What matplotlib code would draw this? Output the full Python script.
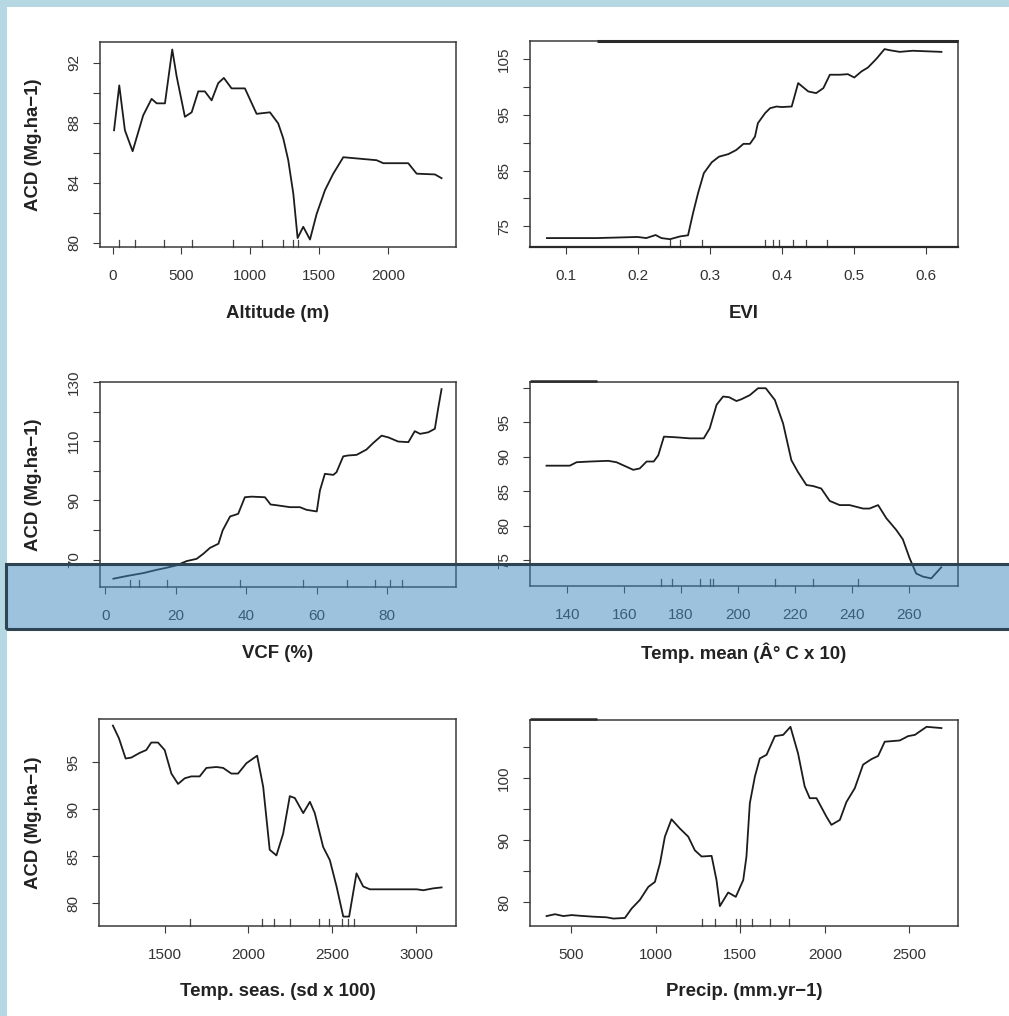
import matplotlib
matplotlib.use("Agg")
import matplotlib.pyplot as plt
from matplotlib.patches import Rectangle
from matplotlib.lines import Line2D
import numpy as np

plt.rcParams['font.family'] = ['Liberation Sans', 'DejaVu Sans']

W, H = 1009, 1016

# ---------------- data ----------------
alt_x = [10, 48, 89, 145, 222, 283, 320, 380, 433, 465, 525, 574, 622, 670, 719, 767, 808, 864,
         961, 1046, 1143, 1203, 1240, 1276, 1313, 1344, 1385, 1434, 1482, 1543, 1603, 1676, 1797,
         1918, 1967, 2148, 2209, 2342, 2390]
alt_y = [87.5, 90.5, 87.5, 86.1, 88.5, 89.6, 89.3, 89.3, 92.9, 91.1, 88.4, 88.7, 90.1, 90.1, 89.5,
         90.65, 91.0, 90.3, 90.3, 88.6, 88.7, 87.96, 86.95, 85.5, 83.25, 80.3, 81.05, 80.2, 81.9,
         83.5, 84.6, 85.7, 85.6, 85.5, 85.3, 85.3, 84.6, 84.55, 84.3]
alt_rug = [46, 162, 375, 580, 875, 1085, 1240, 1310, 1350]

evi_x = [0.074, 0.143, 0.200, 0.212, 0.225, 0.233, 0.245, 0.259, 0.270, 0.277, 0.284, 0.292,
         0.303, 0.313, 0.326, 0.337, 0.347, 0.356, 0.363, 0.367, 0.377, 0.384, 0.393, 0.400,
         0.414, 0.423, 0.437, 0.448, 0.458, 0.467, 0.481, 0.492, 0.501, 0.511, 0.520, 0.532,
         0.543, 0.550, 0.564, 0.582, 0.622]
evi_y = [72.9, 72.9, 73.1, 72.9, 73.45, 72.9, 72.7, 73.2, 73.4, 77.4, 81.0, 84.55, 86.5, 87.5,
         87.96, 88.7, 89.8, 89.8, 91.1, 93.5, 95.3, 96.2, 96.5, 96.4, 96.5, 100.7, 99.2, 98.9,
         99.8, 102.2, 102.2, 102.3, 101.7, 102.8, 103.5, 105.1, 106.8, 106.6, 106.3, 106.5, 106.3]
evi_rug = [0.245, 0.259, 0.290, 0.377, 0.388, 0.397, 0.416, 0.434, 0.463]

vcf_x = [2.3, 6.05, 10.8, 14.6, 17.4, 20.2, 23.1, 25.9, 27.8, 29.7, 32.1, 33.3, 35.4, 37.7, 39.6,
         41.5, 45.3, 46.9, 48.6, 52.4, 55.2, 57.1, 60.0, 60.9, 62.3, 64.7, 65.6, 67.5, 68.9, 71.3,
         74.1, 76.0, 78.4, 80.3, 83.1, 86.0, 87.8, 89.3, 91.6, 93.5, 94.5, 95.4]
vcf_y = [63.6, 64.5, 65.5, 66.6, 67.3, 68.1, 69.55, 70.3, 72.0, 74.0, 75.4, 79.9, 84.6, 85.5, 91.1,
         91.3, 91.1, 88.65, 88.4, 87.75, 87.75, 86.85, 86.3, 93.4, 99.0, 98.65, 99.55, 104.9,
         105.2, 105.4, 107.2, 109.4, 111.9, 111.3, 109.9, 109.7, 113.4, 112.5, 113.0, 114.2,
         121.5, 127.6]
vcf_rug = [7.0, 9.6, 17.6, 38.2, 56.2, 68.5, 76.5, 80.9, 84.1]

tmean_x = [132.7, 140.9, 143.3, 148.0, 154.4, 157.3, 160.8, 163.2, 165.5, 167.9, 170.4, 172.0,
           174.0, 178.4, 183.1, 188.0, 190.1, 192.5, 194.8, 196.9, 199.5, 201.2, 204.2, 207.1,
           209.8, 213.0, 215.9, 218.8, 221.1, 224.1, 226.4, 229.3, 232.3, 235.8, 239.3, 244.0,
           246.3, 249.3, 252.2, 255.7, 258.0, 260.4, 262.7, 265.1, 268.0, 271.5]
tmean_y = [88.7, 88.7, 89.2, 89.3, 89.4, 89.2, 88.55, 88.1, 88.3, 89.3, 89.3, 90.2, 92.9, 92.8,
           92.65, 92.65, 94.1, 97.5, 98.7, 98.6, 98.05, 98.3, 98.9, 99.9, 99.9, 98.2, 94.8, 89.5,
           87.8, 85.9, 85.76, 85.4, 83.6, 83.0, 83.0, 82.5, 82.5, 83.0, 81.1, 79.4, 78.05, 75.3,
           73.1, 72.65, 72.4, 74.0]
tmean_rug = [173.1, 177.0, 186.6, 190.1, 191.3, 213.0, 226.4, 242.2]

tseas_x = [1191, 1227, 1267, 1301, 1351, 1390, 1420, 1460, 1500, 1540, 1580, 1620, 1659, 1709,
           1749, 1809, 1849, 1898, 1938, 1988, 2052, 2088, 2127, 2167, 2207, 2247, 2277, 2327,
           2367, 2396, 2446, 2486, 2526, 2566, 2601, 2645, 2685, 2725, 2805, 3004, 3044, 3103, 3153]
tseas_y = [98.9, 97.55, 95.4, 95.5, 96.0, 96.3, 97.1, 97.1, 96.3, 93.8, 92.7, 93.3, 93.5, 93.5,
           94.4, 94.5, 94.4, 93.8, 93.8, 94.9, 95.7, 92.4, 85.7, 85.1, 87.4, 91.4, 91.2, 89.6,
           90.8, 89.6, 86.0, 84.6, 81.8, 78.6, 78.6, 83.2, 81.8, 81.5, 81.5, 81.5, 81.4, 81.6, 81.7]
tseas_rug = [1649, 2078, 2153, 2247, 2420, 2480, 2556, 2592, 2631]

prec_x = [356, 406, 455, 504, 553, 632, 711, 750, 819, 858, 907, 957, 996, 1026, 1055, 1094,
          1144, 1193, 1232, 1272, 1331, 1360, 1380, 1429, 1474, 1518, 1537, 1557, 1587, 1616,
          1656, 1705, 1754, 1797, 1842, 1881, 1911, 1951, 2010, 2039, 2089, 2128, 2177, 2226,
          2276, 2315, 2354, 2443, 2492, 2532, 2601, 2689]
prec_y = [77.8, 78.1, 77.8, 77.96, 77.85, 77.7, 77.6, 77.4, 77.5, 79.0, 80.4, 82.5, 83.3, 86.3,
          90.6, 93.4, 91.9, 90.6, 88.4, 87.4, 87.5, 83.6, 79.4, 81.6, 80.9, 83.6, 87.4, 96.0,
          100.3, 103.2, 103.8, 106.8, 107.0, 108.3, 104.0, 98.7, 96.8, 96.8, 93.8, 92.5, 93.3,
          96.2, 98.4, 102.2, 103.1, 103.6, 105.9, 106.1, 106.8, 107.0, 108.3, 108.1]
prec_rug = [1272, 1350, 1478, 1500, 1567, 1675, 1789]

xlabels = ["Altitude (m)", "EVI", "VCF (%)", "Temp. mean (Â° C x 10)",
           "Temp. seas. (sd x 100)", "Precip. (mm.yr\u22121)"]
ylabel = "ACD (Mg.ha\u22121)"

# ---------------- layout (pixels) ----------------
boxes = [(100, 456, 42, 247), (530, 958, 41, 247),
         (100, 456, 382, 587), (530, 958, 382, 586),
         (99, 456, 719, 926), (530, 958, 720, 926)]
xlims = [(-92, 2495), (0.0505, 0.645), (-1.5, 99.5), (126.9, 277.4), (1108, 3239), (258, 2787)]
ylims = [(79.7, 93.4), (71.3, 108.25), (60.8, 130.0), (71.3, 100.8), (77.6, 99.6), (76.2, 109.4)]
xticks = [[0, 500, 1000, 1500, 2000], [0.1, 0.2, 0.3, 0.4, 0.5, 0.6], [0, 20, 40, 60, 80],
          [140, 160, 180, 200, 220, 240, 260], [1500, 2000, 2500, 3000], [500, 1000, 1500, 2000, 2500]]
yticks = [[80, 82, 84, 86, 88, 90, 92], [75, 80, 85, 90, 95, 100, 105],
          [70, 80, 90, 100, 110, 120, 130], [75, 80, 85, 90, 95, 100],
          [80, 85, 90, 95], [80, 85, 90, 95, 100, 105]]
ylabshown = [[80, 84, 88, 92], [75, 85, 95, 105], [70, 90, 110, 130], [75, 80, 85, 90, 95],
             [80, 85, 90, 95], [80, 90, 100]]
xlabel_y = [313, 313, 653, 653, 992, 992]

series = [(alt_x, alt_y, alt_rug), (evi_x, evi_y, evi_rug), (vcf_x, vcf_y, vcf_rug),
          (tmean_x, tmean_y, tmean_rug), (tseas_x, tseas_y, tseas_rug), (prec_x, prec_y, prec_rug)]

fig = plt.figure(figsize=(W / 100, H / 100), dpi=100)
fig.patch.set_facecolor('white')

axcol = '#3a3a3a'
txtcol = '#333333'

def fmt(v):
    if isinstance(v, float) and not float(v).is_integer():
        return f"{v:g}"
    return f"{int(v)}"

for i, ((l, r, t, b), (sx, sy, rug)) in enumerate(zip(boxes, series)):
    ax = fig.add_axes([l / W, 1 - b / H, (r - l) / W, (b - t) / H])
    ax.plot(sx, sy, color='#1c1c1c', lw=1.3, solid_joinstyle='round')
    for rv in rug:
        ax.plot([rv, rv], [0, 0.035], color='#444444', lw=0.9,
                transform=ax.get_xaxis_transform(), clip_on=False)
    ax.set_xlim(*xlims[i])
    ax.set_ylim(*ylims[i])
    ax.set_xticks(xticks[i])
    ax.set_xticklabels([fmt(v) for v in xticks[i]])
    ax.set_yticks(yticks[i])
    ax.set_yticklabels([fmt(v) if v in ylabshown[i] else "" for v in yticks[i]])
    for s in ax.spines.values():
        s.set_color(axcol)
        s.set_linewidth(1.1)
    if i == 1:
        ax.spines['bottom'].set_linewidth(1.6)
        ax.spines['bottom'].set_color('#2a2a2a')
    ax.tick_params(axis='both', direction='out', length=5, width=0.8, color=axcol,
                   labelsize=11, labelcolor=txtcol)
    ax.tick_params(axis='x', pad=10.5)
    ax.tick_params(axis='y', pad=8.5)
    for lab in ax.get_yticklabels():
        lab.set_rotation(90)
        lab.set_va('center')
        lab.set_ha('right')
    cx = (l + r) / 2
    fig.text(cx / W, 1 - xlabel_y[i] / H, xlabels[i], ha='center', va='center',
             fontsize=13.4, fontweight='bold', color='#222222')
    if i % 2 == 0:
        fig.text(33 / W, 1 - ((t + b) / 2) / H, ylabel, ha='center', va='center',
                 rotation=90, fontsize=13.4, fontweight='bold', color='#222222')

# page border strips
fig.add_artist(Rectangle((0, 0), 7 / W, 1, transform=fig.transFigure,
                         facecolor='#b5d8e3', edgecolor='none', zorder=0))
fig.add_artist(Rectangle((0, 1 - 7 / H), 1, 7 / H, transform=fig.transFigure,
                         facecolor='#b5d8e3', edgecolor='none', zorder=0))

# scanning artefacts: thicker border pieces
def seg(x0, x1, y, lw, col):
    fig.add_artist(Line2D([x0 / W, x1 / W], [1 - y / H, 1 - y / H], transform=fig.transFigure,
                          color=col, lw=lw, zorder=5, solid_capstyle='butt'))
seg(597, 958, 41, 2.2, '#2a2a2a')
seg(530, 597, 381, 1.8, '#2a2a2a')
seg(530, 597, 719, 1.8, '#2a2a2a')

# translucent blue band across the middle row
fig.add_artist(Rectangle((5.5 / W, 1 - 629 / H), 1.2, 65 / H, transform=fig.transFigure,
                         facecolor='#3c87be', alpha=0.5, edgecolor='none', zorder=20))
fig.add_artist(Rectangle((5.5 / W, 1 - 629 / H), 1.2, 65 / H, transform=fig.transFigure,
                         facecolor='none', edgecolor='#2e4452', lw=2.2, zorder=21))

fig.savefig("out.png", dpi=100)
